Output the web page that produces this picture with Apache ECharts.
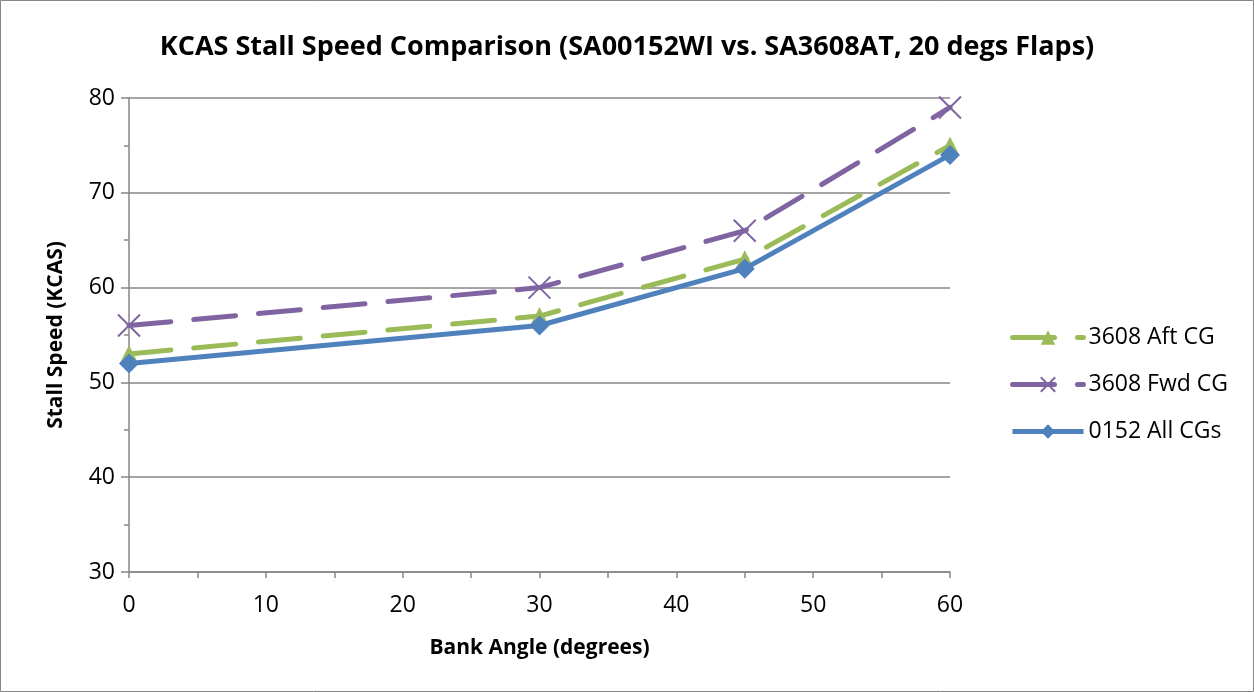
<!DOCTYPE html>
<html><head><meta charset="utf-8">
<script src="https://cdn.jsdelivr.net/npm/echarts@6/dist/echarts.min.js"></script>
<style>html,body{margin:0;padding:0;background:#fff}#c{width:1254px;height:692px}</style>
</head><body><div id="c"></div>
<script>
const bankAngles = [0, 30, 45, 60];
const aft3608 = [53, 57, 63, 75];
const fwd3608 = [56, 60, 66, 79];
const all0152 = [52, 56, 62, 74];
const seriesNames = ['3608 Aft CG', '3608 Fwd CG', '0152 All CGs'];

const pts = (ys) => bankAngles.map((x, i) => [x, ys[i]]);
const font = '"Open Sans", "Noto Sans", sans-serif';
const chart = echarts.init(document.getElementById('c'));
chart.setOption({
  animation: false,
  textStyle: { fontFamily: font },
  title: {
    text: 'KCAS Stall Speed Comparison (SA00152WI vs. SA3608AT, 20 degs Flaps)',
    left: 'center', top: 29,
    textStyle: { fontSize: 27, fontWeight: 'bold', color: '#000', fontFamily: font }
  },
  graphic: [{ type: 'rect', shape: { x: 0.5, y: 0.5, width: 1253, height: 691 },
    style: { fill: 'none', stroke: '#868686', lineWidth: 1 } }],
  grid: { left: 129, right: 304, top: 98, bottom: 120 },
  legend: {
    orient: 'vertical', left: 1005, top: 321, itemGap: 24, itemWidth: 71, itemHeight: 18,
    data: seriesNames,
    lineStyle: { width: 5 },
    textStyle: { fontSize: 23, color: '#000', fontFamily: font }
  },
  xAxis: {
    type: 'value', min: 0, max: 60, interval: 10,
    name: 'Bank Angle (degrees)', nameLocation: 'middle', nameGap: 66,
    nameTextStyle: { fontSize: 21, fontWeight: 'bold', color: '#000' },
    axisLine: { lineStyle: { color: '#868686', width: 1.5 } },
    axisTick: { length: 6, lineStyle: { color: '#868686', width: 1.5 } },
    minorTick: { show: true, splitNumber: 2, length: 6, lineStyle: { color: '#868686', width: 1.5 } },
    axisLabel: { fontSize: 23, color: '#000', margin: 22 },
    splitLine: { show: false }
  },
  yAxis: {
    type: 'value', min: 30, max: 80, interval: 10,
    name: 'Stall Speed (KCAS)', nameLocation: 'middle', nameGap: 62,
    nameTextStyle: { fontSize: 21, fontWeight: 'bold', color: '#000' },
    axisLine: { show: true, lineStyle: { color: '#868686', width: 1.5 } },
    axisTick: { show: true, length: 8, lineStyle: { color: '#868686', width: 1.5 } },
    minorTick: { show: true, splitNumber: 2, length: 5, lineStyle: { color: '#868686', width: 1.5 } },
    axisLabel: { fontSize: 23, color: '#000', margin: 14 },
    splitLine: { lineStyle: { color: '#868686', width: 1.5 } }
  },
  series: [
    { name: seriesNames[0], type: 'line', data: pts(aft3608), symbol: 'triangle', symbolSize: 18,
      lineStyle: { color: '#9BBB59', width: 5, type: [42, 23], cap: 'round' },
      itemStyle: { color: '#9BBB59' }, z: 3 },
    { name: seriesNames[1], type: 'line', data: pts(fwd3608),
      symbol: 'path://M0,0 L10,10 M10,0 L0,10', symbolSize: 22,
      lineStyle: { color: '#8064A2', width: 5, type: [42, 23], cap: 'round' },
      itemStyle: { color: '#8064A2', borderColor: '#8064A2', borderWidth: 2 }, z: 2 },
    { name: seriesNames[2], type: 'line', data: pts(all0152), symbol: 'diamond', symbolSize: 20,
      lineStyle: { color: '#4F81BD', width: 5 },
      itemStyle: { color: '#4F81BD' }, z: 4 }
  ]
});
</script></body></html>
